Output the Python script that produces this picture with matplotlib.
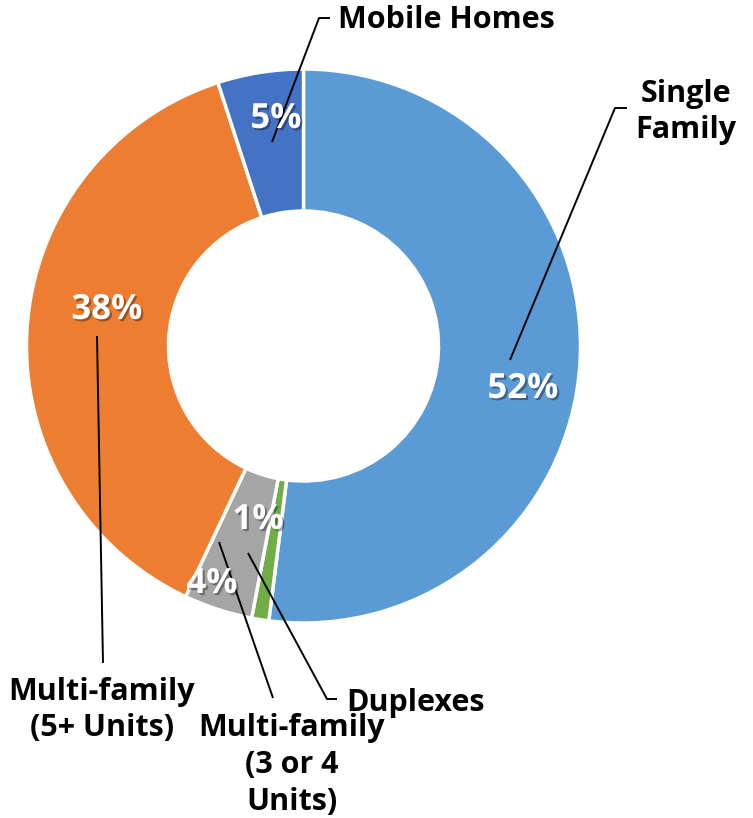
import matplotlib
matplotlib.use("Agg")
import matplotlib.pyplot as plt
import matplotlib.patheffects as pe

# Housing stock by structure type (percent)
categories = ["Single Family", "Duplexes", "Multi-family (3 or 4 Units)",
              "Multi-family (5+ Units)", "Mobile Homes"]
shares = [52, 1, 4, 38, 5]
pct_labels = ["52%", "1%", "4%", "38%", "5%"]
cat_labels = ["Single\nFamily", "Duplexes", "Multi-family\n(3 or 4\nUnits)",
              "Multi-family\n(5+ Units)", "Mobile Homes"]
colors = ["#5B9BD5", "#70AD47", "#A5A5A5", "#ED7D31", "#4472C4"]

W, H = 753, 818
fig = plt.figure(figsize=(W / 100, H / 100), dpi=100)
ax = fig.add_axes([0, 0, 1, 1])


def py(y):
    # convert a top-down pixel row into the axes' bottom-up coordinate
    return H - y


cx, cy, r_out, r_in = 303.5, 346, 277, 135
ax.pie(shares, colors=colors, startangle=90, counterclock=False,
       center=(cx, py(cy)), radius=r_out,
       wedgeprops=dict(width=r_out - r_in, edgecolor="white", linewidth=2.5))
ax.set_xlim(0, W)
ax.set_ylim(0, H)
ax.set_aspect("equal")
ax.axis("off")

# layout: percent-label centres, category-label anchors, leader lines
pct_pos = [(523, 389), (258, 520), (212, 584), (107, 310), (276, 119)]
cat_pos = [(686, 112, "center"), (346, 703, "left"), (292, 765, "center"),
           (102, 710, "center"), (338, 20, "left")]
leaders = [
    [(510, 360), (615, 108), (627, 108)],
    [(248, 553), (327, 699), (337, 699)],
    [(219, 542), (273, 698)],
    [(97, 336), (103, 663)],
    [(272, 142), (319, 18), (330, 18)],
]

shadow = [pe.withSimplePatchShadow(offset=(1.5, -1.5), shadow_rgbFace="black",
                                   alpha=0.35)]

for pts in leaders:
    xs = [p[0] for p in pts]
    ys = [py(p[1]) for p in pts]
    ax.plot(xs, ys, color="black", lw=1.4, solid_capstyle="butt", zorder=5)

for lab, (x, y) in zip(pct_labels, pct_pos):
    ax.text(x, py(y), lab, ha="center", va="center", color="white",
            fontsize=25, fontweight="bold", family="Open Sans",
            path_effects=shadow, zorder=6)

for lab, (x, y, ha) in zip(cat_labels, cat_pos):
    ax.text(x, py(y), lab, ha=ha, va="center", multialignment="center",
            color="black", fontsize=22, fontweight="bold", family="Open Sans",
            linespacing=1.3, zorder=6)

fig.savefig("out.png", dpi=100, facecolor="white")
